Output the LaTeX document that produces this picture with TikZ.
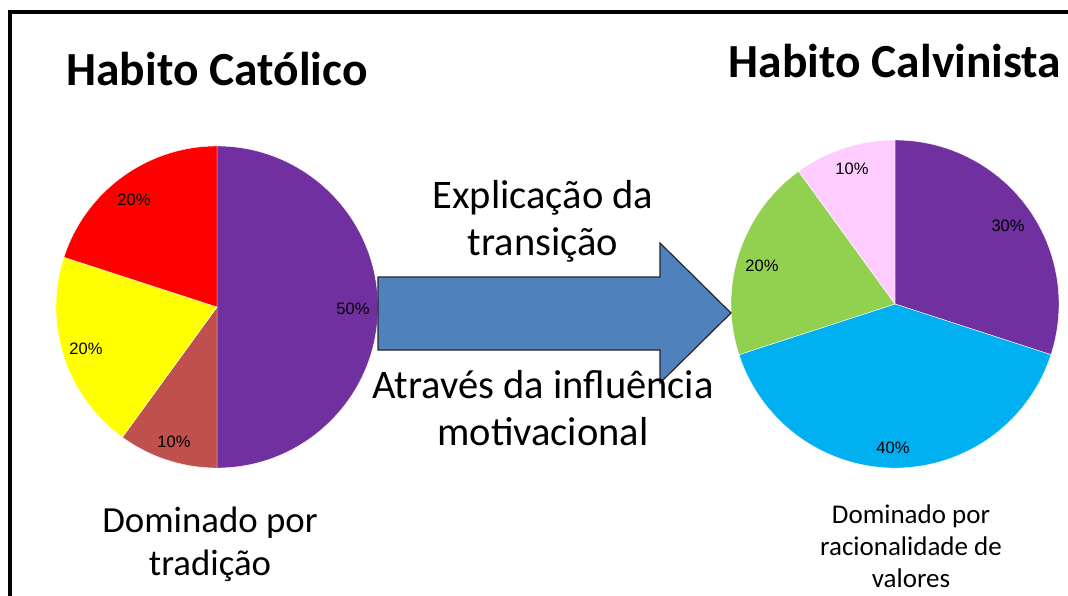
\documentclass[tikz,border=0pt]{standalone}
\usepackage{fontspec}
\setmainfont{Carlito}
\newfontfamily\pctfont{Liberation Sans}
\definecolor{cpurple}{HTML}{7030A0}
\definecolor{cred}{HTML}{FF0000}
\definecolor{cyellow}{HTML}{FFFF00}
\definecolor{cbrown}{HTML}{C0504D}
\definecolor{cgreen}{HTML}{92D050}
\definecolor{cpink}{HTML}{FFCCFF}
\definecolor{cblue}{HTML}{00B0F0}
\definecolor{carrow}{HTML}{4F81BD}
\begin{document}
\begin{tikzpicture}[x=1pt,y=1pt,
  title/.style={anchor=base,font=\fontsize{47.5}{56}\selectfont\bfseries},
  midtext/.style={anchor=base,font=\fontsize{40.5}{47}\selectfont},
  subleft/.style={anchor=base,font=\fontsize{36.8}{43}\selectfont},
  subright/.style={anchor=base,font=\fontsize{27}{32}\selectfont},
  pct/.style={font=\pctfont\fontsize{16.5}{19}\selectfont,inner sep=0pt},
  slice/.style={draw=white,line width=0.4pt}]
\fill[white] (0,0) rectangle (1068,-596);
\useasboundingbox (0,0) rectangle (1068,-596);
% frame (only top and left edges are visible)
\draw[line width=4pt,line join=miter] (1068,-12) -- (9.5,-12) -- (9.5,-596);
% left pie
\coordinate (lc) at (217,-307);
\fill[cpurple,slice] (lc) -- ++(90:161) arc[start angle=90,end angle=-90,radius=161] -- cycle;
\fill[cbrown,slice] (lc) -- ++(-90:161) arc[start angle=-90,end angle=-126,radius=161] -- cycle;
\fill[cyellow,slice] (lc) -- ++(-126:161) arc[start angle=-126,end angle=-198,radius=161] -- cycle;
\fill[cred,slice] (lc) -- ++(-198:161) arc[start angle=-198,end angle=-270,radius=161] -- cycle;
\node[pct] (l50) at (353,-309) {50\%};
\node[pct] (l10) at (174,-442) {10\%};
\node[pct] (l20y) at (86,-349) {20\%};
\node[pct] (l20r) at (134,-200) {20\%};
% right pie
\coordinate (rc) at (895,-304);
\fill[cpurple,slice] (rc) -- ++(90:164) arc[start angle=90,end angle=-18,radius=164] -- cycle;
\fill[cblue,slice] (rc) -- ++(-18:164) arc[start angle=-18,end angle=-162,radius=164] -- cycle;
\fill[cgreen,slice] (rc) -- ++(-162:164) arc[start angle=-162,end angle=-234,radius=164] -- cycle;
\fill[cpink,slice] (rc) -- ++(-234:164) arc[start angle=-234,end angle=-270,radius=164] -- cycle;
\node[pct] (r10) at (852,-169) {10\%};
\node[pct] (r30) at (1008,-226) {30\%};
\node[pct] (r20) at (762,-266) {20\%};
\node[pct] (r40) at (893,-448) {40\%};
% arrow
\draw[fill=carrow,draw=black!85,line width=1.2pt,line join=miter]
  (378,-277) -- (660,-277) -- (660,-243) -- (731,-313) -- (660,-383) -- (660,-350) -- (378,-350) -- cycle;
% titles
\node[title] (t1) at (217,-86) {Habito Católico};
\node[title] (t2) at (895,-78) {Habito Calvinista};
% middle texts
\node[midtext] (m1) at (543,-208) {Explicação da};
\node[midtext] (m2) at (543,-255) {transição};
\node[midtext] (m3) at (543,-398) {Através da influência};
\node[midtext] (m4) at (543,-445) {motivacional};
% bottom texts
\node[subleft] (b1) at (210,-532) {Dominado por};
\node[subleft] (b2) at (210,-575) {tradição};
\node[subright] (c1) at (911,-523) {Dominado por};
\node[subright] (c2) at (911,-555) {racionalidade de};
\node[subright] (c3) at (911,-587) {valores};
\end{tikzpicture}
\end{document}
